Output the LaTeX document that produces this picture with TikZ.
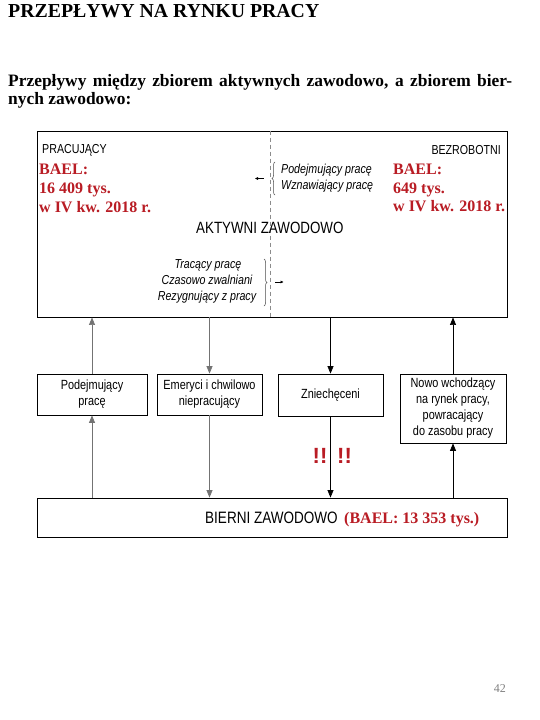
\documentclass[tikz,border=0pt]{standalone}
\usepackage{fontspec}
\setmainfont{Liberation Serif}
\newfontfamily\nsans[FakeStretch=0.82]{Liberation Sans}
\newfontfamily\plainsans{Liberation Sans}
\usetikzlibrary{arrows.meta,decorations.pathreplacing}
\definecolor{baelred}{RGB}{185,28,36}
\newcommand\setfs[1]{\fontsize{#1}{#1}\selectfont}
\tikzset{
  txt/.style={inner sep=0pt, anchor=base west},
  boxs/.style={draw, line width=0.8pt, inner sep=0pt, align=center,
    font=\nsans\fontsize{13.3}{16}\selectfont},
  bigbox/.style={draw, line width=0.9pt, inner sep=0pt},
  sans13/.style={txt, font=\nsans\setfs{13}},
  sansit/.style={txt, font=\nsans\itshape\setfs{13}},
  sansbig/.style={txt, font=\nsans\setfs{16.3}},
  bael/.style={txt, text=baelred, font=\bfseries\setfs{16}},
  excl/.style={inner sep=0pt, anchor=base, text=baelred, font=\plainsans\bfseries\setfs{22}},
  arrg/.style={-{Triangle[length=7.5pt,width=6pt]}, line width=0.7pt, draw=black!55},
  arrk/.style={-{Triangle[length=7.5pt,width=6pt]}, line width=0.7pt, draw=black},
  smallarr/.style={-{Triangle[length=3pt,width=2.6pt]}, line width=0.5pt},
  bracel/.style={decorate, decoration={brace, amplitude=3pt}, line width=0.5pt, draw=black!70},
  dashl/.style={draw=black!45, line width=0.9pt, dash pattern=on 4pt off 3pt}
}
\begin{document}
\begin{tikzpicture}[x=1pt,y=-1pt]
\useasboundingbox (0,0) rectangle (540,720);
\fill[white] (0,0) rectangle (540,720);

% titles
\node[txt, font=\bfseries\setfs{19.8}] (title) at (8,17) {PRZEPŁYWY NA RYNKU PRACY};
\node[txt, font=\bfseries\setfs{17.4}] (sub1) at (8,86)
  {\makebox[504pt][s]{Przepływy między zbiorem aktywnych zawodowo, a zbiorem bier-}};
\node[txt, font=\bfseries\setfs{17.4}] (sub2) at (8,104) {nych zawodowo:};

% active box
\node[bigbox, minimum width=470pt, minimum height=186pt] (akt) at (272,224) {};
\coordinate (dx) at (270,0);
\draw[dashl] (akt.north -| dx) -- (akt.south -| dx);

\node[sans13] (prac) at (42,153) {PRACUJĄCY};
\node[sans13, anchor=base east] (bezr) at (501,154) {BEZROBOTNI};

\node[bael] (bl1) at (39,174) {BAEL:};
\node[bael] (bl2) at (39,193) {16 409 tys.};
\node[bael] (bl3) at (39,212) {w IV kw. 2018 r.};
\node[bael] (br1) at (393,174) {BAEL:};
\node[bael] (br2) at (393,193) {649 tys.};
\node[bael] (br3) at (393,211) {w IV kw. 2018 r.};

\node[sansit] (pod) at (281,173) {Podejmujący pracę};
\node[sansit] (wzn) at (281,189) {Wznawiający pracę};
\coordinate (bl-a) at (275,195);
\coordinate (bl-b) at (275,162);
\draw[bracel] (bl-a) -- (bl-b);
\coordinate (sa1) at (263.5,178.5);
\coordinate (sa2) at (255,178.5);
\draw[smallarr] (sa1) -- (sa2);

\node[sansbig] (aktt) at (196,233) {AKTYWNI ZAWODOWO};

\node[sansit, anchor=base] (trac) at (208,268) {Tracący pracę};
\node[sansit, anchor=base] (czas) at (207,284) {Czasowo zwalniani};
\node[sansit, anchor=base] (rezy) at (207,300) {Rezygnujący z pracy};
\coordinate (br-a) at (264,259);
\coordinate (br-b) at (264,306);
\draw[bracel] (br-a) -- (br-b);
\coordinate (sb1) at (275,282);
\coordinate (sb2) at (283.5,282);
\draw[smallarr] (sb1) -- (sb2);

% middle boxes
\node[boxs, minimum width=110pt, minimum height=41pt] (b1) at (92,394.5) {Podejmujący\\pracę};
\node[boxs, minimum width=105pt, minimum height=41pt] (b2) at (209.5,394.5) {Emeryci i chwilowo\\niepracujący};
\node[boxs, minimum width=105pt, minimum height=42pt] (b3) at (330.5,395) {Zniechęceni};
\node[boxs, minimum width=106pt, minimum height=69pt] (b4) at (453,408.5)
  {Nowo wchodzący\\na rynek pracy,\\powracający\\do zasobu pracy};

% passive box
\node[bigbox, minimum width=470pt, minimum height=39pt] (bier) at (272,517.5) {};
\node[sansbig, font=\nsans\setfs{16.5}] (biert) at (205,523) {BIERNI ZAWODOWO};
\node[bael] (bierb) at (344,523) {(BAEL: 13 353 tys.)};

% arrows
\draw[arrg] (b1.north) -- (b1.north |- akt.south);
\draw[arrg] (b1.south |- bier.north) -- (b1.south);
\draw[arrg] (b2.north |- akt.south) -- (b2.north);
\draw[arrg] (b2.south) -- (b2.south |- bier.north);
\draw[arrk] (b3.north |- akt.south) -- (b3.north);
\draw[arrk] (b3.south) -- (b3.south |- bier.north);
\draw[arrk] (b4.north) -- (b4.north |- akt.south);
\draw[arrk] (b4.south |- bier.north) -- (b4.south);

\node[excl] (ex1) at (320,463) {!!};
\node[excl] (ex2) at (344.5,463) {!!};

\node[txt, anchor=base east, text=black!50, font=\setfs{12}] (pg) at (506,692) {42};
\end{tikzpicture}
\end{document}
